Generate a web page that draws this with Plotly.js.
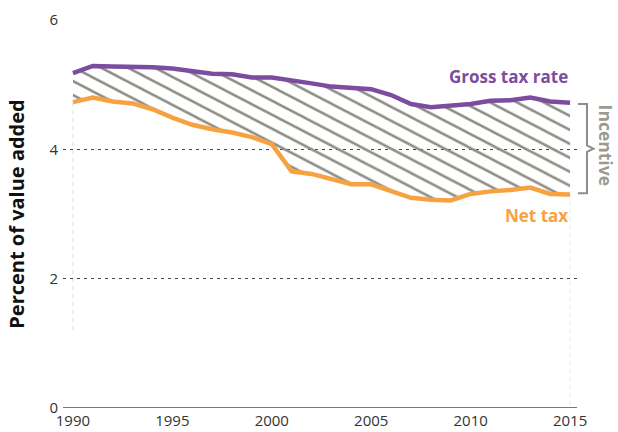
<!DOCTYPE html>
<html>
<head>
<meta charset="utf-8">
<script src="https://cdn.plot.ly/plotly-3.0.1.min.js"></script>
<style>
html,body{margin:0;padding:0;background:#fff;}
#chart{width:618px;height:432px;}
</style>
</head>
<body>
<div id="chart"></div>
<script>
const years = [1990,1991,1992,1993,1994,1995,1996,1997,1998,1999,2000,2001,2002,2003,2004,2005,2006,2007,2008,2009,2010,2011,2012,2013,2014,2015];
const grossTax = [5.18,5.29,5.28,5.28,5.27,5.25,5.21,5.17,5.16,5.11,5.11,5.07,5.02,4.97,4.95,4.93,4.84,4.70,4.65,4.67,4.70,4.75,4.76,4.80,4.74,4.72];
const netTax = [4.73,4.80,4.74,4.71,4.62,4.49,4.38,4.31,4.26,4.19,4.08,3.66,3.62,3.54,3.46,3.46,3.35,3.25,3.22,3.21,3.31,3.35,3.37,3.41,3.31,3.30];
const yTicks = [0,2,4,6];
const xTicks = [1990,1995,2000,2005,2010,2015];

const purple = '#7b4c9f';
const orange = '#f7a241';
const hatch = '#8b8d83';
const fontFam = '"Open Sans", "Noto Sans", sans-serif';

const traces = [
  {x: years, y: netTax, type:'scatter', mode:'lines', line:{width:0, color:'rgba(0,0,0,0)'}, hoverinfo:'skip', showlegend:false},
  {x: years, y: grossTax, type:'scatter', mode:'lines', fill:'tonexty', line:{width:0, color:'rgba(0,0,0,0)'},
   fillcolor:'rgba(255,255,255,0)',
   fillpattern:{shape:'\\', size:19, solidity:0.2, fgcolor:hatch, bgcolor:'rgba(255,255,255,0)'},
   hoverinfo:'skip', showlegend:false},
  {x: years, y: netTax, type:'scatter', mode:'lines', line:{width:4.5, color:orange}, name:'Net tax', showlegend:false},
  {x: years, y: grossTax, type:'scatter', mode:'lines', line:{width:4.5, color:purple}, name:'Gross tax rate', showlegend:false}
];

const nLast = netTax[netTax.length-1];
const gLast = grossTax[grossTax.length-1];
const mid = (nLast + gLast)/2;

const layout = {
  width:618, height:432,
  margin:{l:63, r:38, t:20, b:24},
  paper_bgcolor:'#fff', plot_bgcolor:'#fff',
  font:{family:fontFam, color:'#333', size:15},
  xaxis:{range:[1989.5,2015.5], tickvals:xTicks, ticktext:xTicks.map(String), showgrid:false, zeroline:false,
         showline:false, ticks:'', tickfont:{size:15, color:'#333'}, ticklabelstandoff:2, automargin:false, fixedrange:true},
  yaxis:{range:[0,6], tickvals:yTicks, ticktext:yTicks.map(String), showgrid:true, gridcolor:'#444', gridwidth:1,
         griddash:'3px,4px', zeroline:false, showline:false, ticks:'', tickfont:{size:15, color:'#333'}, automargin:false,
         ticklabelstandoff:4,
         title:{text:'Percent of value added', font:{size:20, color:'#111', family:fontFam, weight:'bold'}, standoff:19}},
  shapes:[
    {type:'line', xref:'x', yref:'y', x0:1989.2, x1:2015.35, y0:0, y1:0, line:{color:'#7a7a7a', width:2.2}},
    {type:'line', xref:'x', yref:'y', x0:years[0], x1:years[0], y0:1.2, y1:netTax[0], line:{color:'#dcdcdc', width:1, dash:'4px,4px'}, layer:'below'},
    {type:'line', xref:'x', yref:'y', x0:years[years.length-1], x1:years[years.length-1], y0:0.05, y1:nLast, line:{color:'#e6e6e6', width:1, dash:'4px,4px'}, layer:'below'},
    {type:'path', xref:'paper', yref:'y',
     path:`M 0.996 ${gLast-0.02} L 1.0135 ${gLast-0.02} L 1.0135 ${mid+0.05} L 1.026 ${mid} L 1.0135 ${mid-0.05} L 1.0135 ${nLast+0.02} L 0.996 ${nLast+0.02}`,
     line:{color:'#8e8e86', width:2}}
  ],
  annotations:[
    {text:'Gross tax rate', x:2015, y:5.13, xref:'x', yref:'y', xanchor:'right', yanchor:'middle', showarrow:false,
     font:{size:17, color:purple, family:fontFam, weight:'bold'}},
    {text:'Net tax', x:2015, y:2.98, xref:'x', yref:'y', xanchor:'right', yanchor:'middle', showarrow:false,
     font:{size:17, color:orange, family:fontFam, weight:'bold'}},
    {text:'Incentive', x:1.05, y:mid+0.05, xref:'paper', yref:'y', xanchor:'center', yanchor:'middle', showarrow:false, textangle:90,
     font:{size:17.5, color:'#9a9a92', family:fontFam, weight:'bold'}}
  ]
};

Plotly.newPlot('chart', traces, layout, {displayModeBar:false, staticPlot:true}).then(function(){
  document.querySelectorAll('#chart pattern').forEach(function(p){
    p.setAttribute('patternTransform','scale(1,0.52)');
  });
});
</script>
</body>
</html>
